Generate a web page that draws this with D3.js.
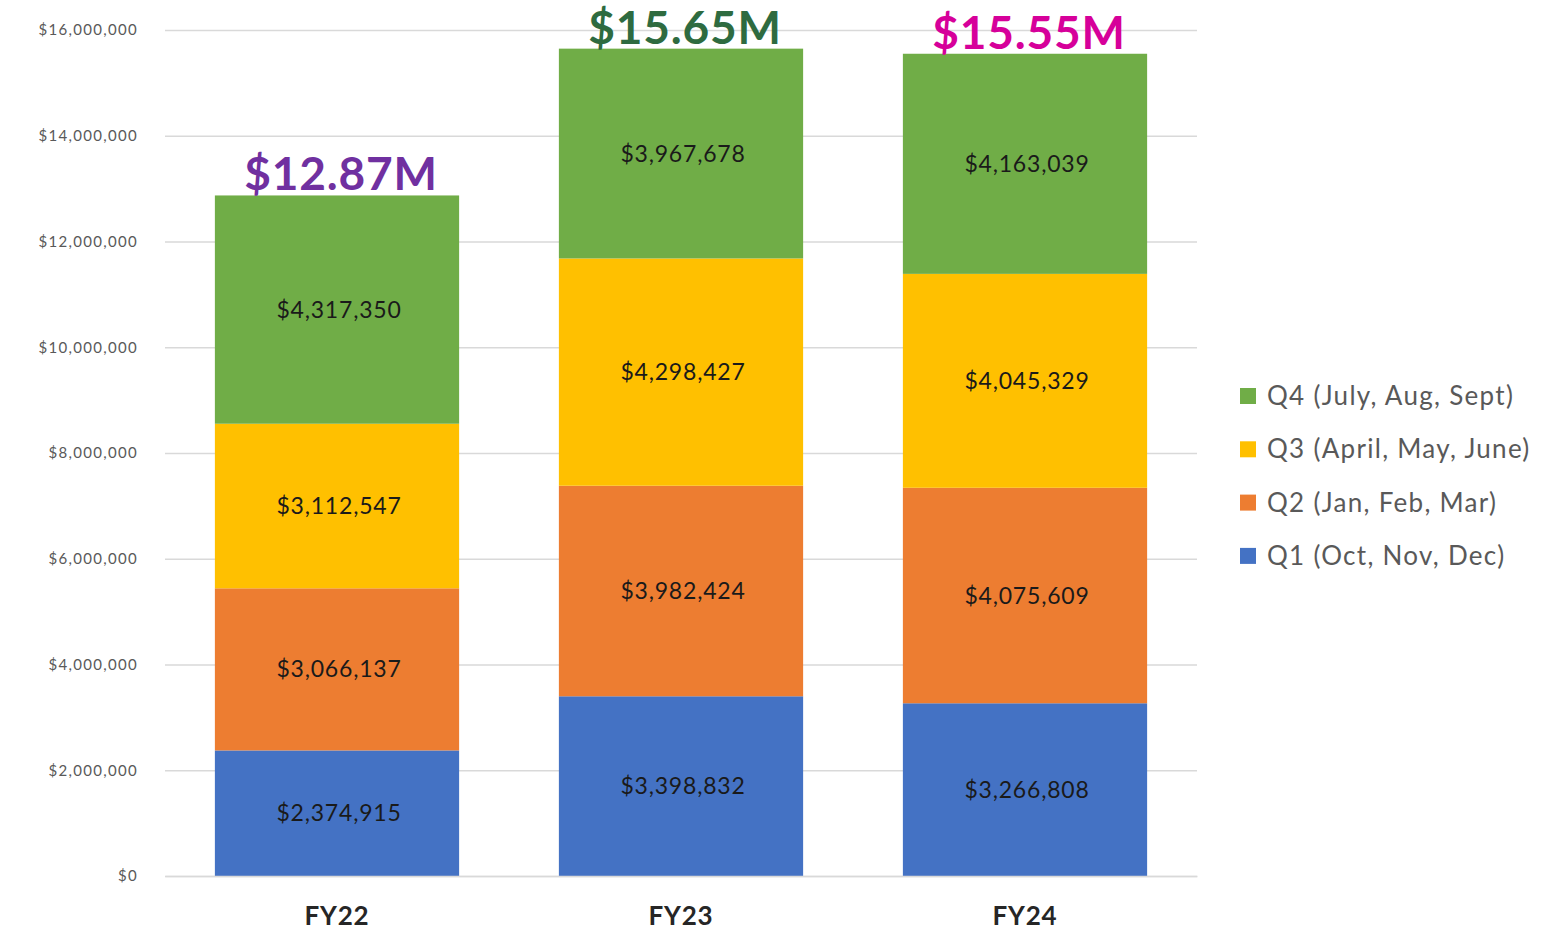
<!DOCTYPE html>
<meta charset="utf-8">
<style>
  body { margin: 0; background: #fff; }
  text { font-family: Lato, "Open Sans", sans-serif; }
</style>
<svg width="1544" height="933"></svg>
<script src="https://cdn.jsdelivr.net/npm/d3@7"></script>
<script>
// data
var years = ["FY22", "FY23", "FY24"];
var quarters = ["Q1", "Q2", "Q3", "Q4"];
var quarterNames = ["Q1 (Oct, Nov, Dec)", "Q2 (Jan, Feb, Mar)", "Q3 (April, May, June)", "Q4 (July, Aug, Sept)"];
var q1 = [2374915, 3398832, 3266808];
var q2 = [3066137, 3982424, 4075609];
var q3 = [3112547, 4298427, 4045329];
var q4 = [4317350, 3967678, 4163039];
var totalLabels = ["$12.87M", "$15.65M", "$15.55M"];
var totalColors = ["#7030a0", "#2e6b40", "#d6009a"];
var colors = ["#4472c4", "#ed7d31", "#ffc000", "#70ad47"];

var svg = d3.select("svg");
var plotLeft = 165, plotRight = 1197, plotTop = 30, plotBottom = 876;

var rows = years.map(function(y, i) {
  return { year: y, Q1: q1[i], Q2: q2[i], Q3: q3[i], Q4: q4[i] };
});
var series = d3.stack().keys(quarters)(rows);

var x = d3.scaleBand().domain(years).range([plotLeft, plotRight]).paddingInner(0.29).paddingOuter(0.145);
var y = d3.scaleLinear().domain([0, 16000000]).range([plotBottom, plotTop]);
var color = d3.scaleOrdinal().domain(quarters).range(colors);

// grid + y axis
var yAxis = svg.append("g")
    .attr("transform", "translate(" + plotLeft + ",0)")
    .call(d3.axisLeft(y).tickValues(d3.range(0, 16000001, 2000000))
      .tickSize(-(plotRight - plotLeft)).tickPadding(27)
      .tickFormat(function(d) { return "$" + d3.format(",")(d); }));
yAxis.select(".domain").remove();
yAxis.selectAll("line").attr("stroke", "#d9d9d9").attr("stroke-width", 1.3);
yAxis.selectAll("text").attr("fill", "#595959").attr("font-size", 15)
    .attr("font-family", "'Open Sans', sans-serif").attr("letter-spacing", 1.3);

// bars
var layer = svg.selectAll(".layer").data(series).enter().append("g")
    .attr("class", "layer")
    .attr("fill", function(d) { return color(d.key); });
layer.selectAll("rect").data(function(d) { return d; }).enter().append("rect")
    .attr("x", function(d) { return x(d.data.year); })
    .attr("width", x.bandwidth())
    .attr("y", function(d) { return y(d[1]); })
    .attr("height", function(d) { return y(d[0]) - y(d[1]); });

// segment labels
layer.selectAll("text").data(function(d) { return d; }).enter().append("text")
    .attr("x", function(d) { return x(d.data.year) + x.bandwidth() / 2 + 2; })
    .attr("y", function(d) { return (y(d[0]) + y(d[1])) / 2; })
    .attr("dy", "0.35em")
    .attr("text-anchor", "middle")
    .attr("font-size", 23)
    .attr("letter-spacing", 0.8)
    .attr("fill", "#1a1a1a")
    .text(function(d) { return "$" + d3.format(",")(d[1] - d[0]); });

// totals
var topLayer = series[series.length - 1];
svg.selectAll(".total").data(topLayer).enter().append("text")
    .attr("class", "total")
    .attr("x", function(d) { return x(d.data.year) + x.bandwidth() / 2 + 4; })
    .attr("y", function(d) { return y(d[1]) - 5; })
    .attr("text-anchor", "middle")
    .attr("font-size", 46)
    .attr("font-weight", "bold")
    .attr("letter-spacing", 0.8)
    .attr("fill", function(d, i) { return totalColors[i]; })
    .text(function(d, i) { return totalLabels[i]; });

// x axis
var xAxis = svg.append("g")
    .attr("transform", "translate(0," + plotBottom + ")")
    .call(d3.axisBottom(x).tickSize(0).tickPadding(31));
xAxis.select(".domain").attr("stroke", "#d9d9d9").attr("stroke-width", 1.3);
xAxis.selectAll("text").attr("font-size", 26).attr("font-weight", "bold")
    .attr("letter-spacing", 0.8).attr("fill", "#262626");

// legend
var legend = svg.append("g").attr("transform", "translate(1240,396)");
var items = legend.selectAll("g").data(quarters.slice().reverse()).enter().append("g")
    .attr("transform", function(d, i) { return "translate(0," + i * 53.3 + ")"; });
items.append("rect").attr("y", -8).attr("width", 16).attr("height", 16)
    .attr("fill", function(d) { return color(d); });
items.append("text").attr("x", 27).attr("dy", "0.35em")
    .attr("font-size", 26).attr("letter-spacing", 1.3).attr("fill", "#595959")
    .text(function(d) { return quarterNames[quarters.indexOf(d)]; });
</script>
